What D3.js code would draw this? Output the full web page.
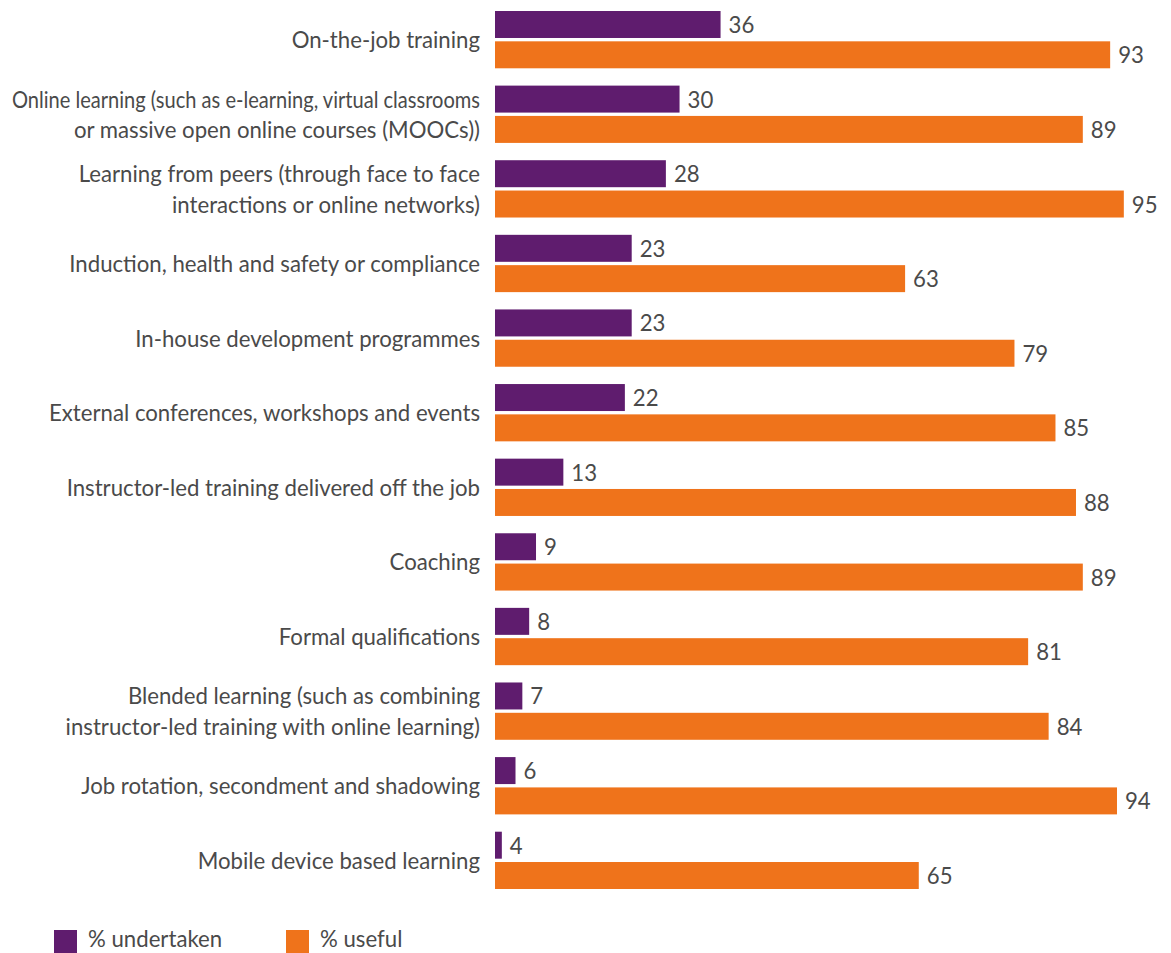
<!DOCTYPE html>
<html>
<head>
<meta charset="utf-8">
<script src="https://cdn.jsdelivr.net/npm/d3@7"></script>
<style>
  html, body { margin: 0; padding: 0; background: #ffffff; }
  svg { display: block; }
  text { font-family: Lato, "Open Sans", sans-serif; fill: #4a4a4a; }
</style>
</head>
<body>
<svg id="chart" width="1171" height="953"></svg>
<script>
// Learning methods: share who undertook each, and share who found it useful
const categories = [
  "On-the-job training",
  "Online learning (such as e-learning, virtual classrooms\nor massive open online courses (MOOCs))",
  "Learning from peers (through face to face\ninteractions or online networks)",
  "Induction, health and safety or compliance",
  "In-house development programmes",
  "External conferences, workshops and events",
  "Instructor-led training delivered off the job",
  "Coaching",
  "Formal qualifications",
  "Blended learning (such as combining\ninstructor-led training with online learning)",
  "Job rotation, secondment and shadowing",
  "Mobile device based learning"
];
const seriesNames = ["% undertaken", "% useful"];
const undertaken = [36, 30, 28, 23, 23, 22, 13, 9, 8, 7, 6, 4];
const useful = [93, 89, 95, 63, 79, 85, 88, 89, 81, 84, 94, 65];
const seriesColors = ["#5f1c6e", "#ef731b"];

const rows = categories.map((c, i) => ({ category: c, values: [undertaken[i], useful[i]] }));

const svg = d3.select("#chart");
const plotLeft = 495;
const labelPad = 15;
const maxLabelWidth = 468;
const fontSize = 22.2;

// value axis starts slightly above zero, as in the published chart
const x = d3.scaleLinear().domain([3, 100]).range([plotLeft, 1158]);

const y0 = d3.scaleBand()
  .domain(categories)
  .range([11, 889])
  .paddingInner(0.232)
  .paddingOuter(0)
  .align(0);

const y1 = d3.scaleBand()
  .domain(seriesNames)
  .range([0, y0.bandwidth()])
  .paddingInner(0.11);

const color = d3.scaleOrdinal().domain(seriesNames).range(seriesColors);

// category labels, wrapped onto lines and kept inside the left margin
const yAxis = svg.append("g")
  .attr("transform", `translate(${plotLeft},0)`)
  .call(d3.axisLeft(y0).tickSize(0).tickPadding(labelPad));
yAxis.select(".domain").remove();
yAxis.selectAll(".tick text")
  .attr("font-size", fontSize)
  .attr("fill", "#4a4a4a")
  .style("font-family", "Lato, sans-serif")
  .each(function(d) {
    const t = d3.select(this);
    const lines = d.split("\n");
    t.text(null);
    const lh = 30.5;
    const start = -(lines.length - 1) * lh / 2;
    lines.forEach((ln, k) => {
      const span = t.append("tspan")
        .attr("x", -labelPad)
        .attr("dy", k === 0 ? `${start}px` : `${lh}px`)
        .attr("dominant-baseline", "central")
        .text(ln);
      const w = span.node().getComputedTextLength();
      if (w > maxLabelWidth) {
        span.attr("textLength", maxLabelWidth).attr("lengthAdjust", "spacingAndGlyphs");
      }
    });
    t.attr("dy", null).attr("y", 0);
  });

// bars
const groups = svg.append("g").selectAll("g")
  .data(rows)
  .join("g")
  .attr("transform", d => `translate(0,${y0(d.category)})`);

groups.selectAll("rect")
  .data(d => d.values.map((v, k) => ({ key: seriesNames[k], value: v })))
  .join("rect")
  .attr("x", x(3))
  .attr("y", d => y1(d.key))
  .attr("width", d => x(d.value) - x(3))
  .attr("height", y1.bandwidth())
  .attr("fill", d => color(d.key));

groups.selectAll("text.value")
  .data(d => d.values.map((v, k) => ({ key: seriesNames[k], value: v })))
  .join("text")
  .attr("class", "value")
  .attr("x", d => x(d.value) + 8)
  .attr("y", d => y1(d.key) + y1.bandwidth() / 2)
  .attr("dominant-baseline", "central")
  .attr("font-size", fontSize)
  .text(d => d.value);

// legend
const legend = svg.append("g").selectAll("g")
  .data(seriesNames)
  .join("g")
  .attr("transform", (d, i) => `translate(${54 + i * 232},930)`);
legend.append("rect")
  .attr("width", 23)
  .attr("height", 23)
  .attr("fill", d => color(d));
legend.append("text")
  .attr("x", 34)
  .attr("y", 17)
  .attr("font-size", fontSize)
  .text(d => d);
</script>
</body>
</html>
